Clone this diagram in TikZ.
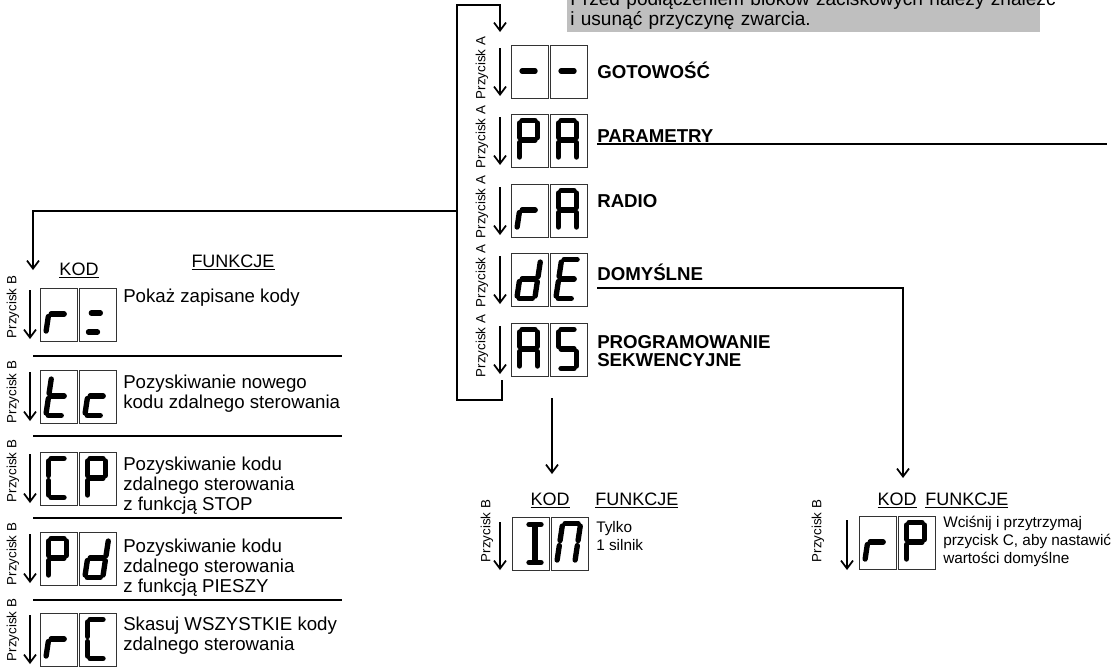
\documentclass[tikz,border=0pt]{standalone}
\usepackage{fontspec}
\setmainfont{Liberation Sans}
\usetikzlibrary{arrows.meta}

\tikzset{
  conn/.style={line width=0.9pt},
  arr/.style={-{Straight Barb[length=6pt,width=9pt,line width=1.3pt]}},
  lcd/.style={draw=black!80, line width=0.8pt, minimum width=27.75pt,
    minimum height=39.75pt, inner sep=0pt},
  segline/.style={line width=4pt, line cap=round},
  btn/.style={rotate=90, inner sep=0pt, font=\fontsize{10}{12}\selectfont},
  head/.style={anchor=base west, inner sep=0pt, font=\bfseries\fontsize{14}{13}\selectfont},
  desc/.style={anchor=base west, inner sep=0pt, align=left, font=\fontsize{14}{15}\selectfont},
  descs/.style={anchor=base west, inner sep=0pt, align=left, font=\fontsize{11.5}{13.5}\selectfont},
  colhead/.style={inner sep=0pt, font=\fontsize{13.5}{15}\selectfont},
  warnbox/.style={fill=black!25, inner xsep=2.25pt, inner ysep=2.2pt, text width=350.25pt,
    align=left, font=\fontsize{14.3}{15}\selectfont},
  % seven segment pieces, centre of the box is the origin
  sga/.style={insert path={(-8,-20.5)--(5,-20.5)}},
  sgb/.style={insert path={(7.5,-18)--(7.5,-3.5)}},
  sgc/.style={insert path={(7.5,1.5)--(7.5,16)}},
  sgd/.style={insert path={(-8,18.5)--(5,18.5)}},
  sge/.style={insert path={(-10.5,1.5)--(-10.5,16)}},
  sgf/.style={insert path={(-10.5,-18)--(-10.5,-3.5)}},
  sgg/.style={insert path={(-8,-1)--(5,-1)}},
  sgh/.style={insert path={(-7,-2)--(2,-2)}},
  sgi/.style={insert path={(-7,17)--(2,17)}},
  sgj/.style={insert path={(4,-18)--(4,16)}},
  sgk/.style={insert path={(-2,-19.5)--(10,-19.5)}},
  sgl/.style={insert path={(-2,18.5)--(10,18.5)}},
}

% name, left x, top y, slant, segments
\newcommand{\lcdbox}[5]{%
  \node[lcd, anchor=north west] (#1) at (#2,#3) {};
  \begin{scope}[shift={(#1.center)}, xslant=#4]
    \foreach \s in {#5} \draw[segline, sg\s];
  \end{scope}}

\begin{document}
\begin{tikzpicture}[x=0.75pt, y=-0.75pt]
\useasboundingbox (0,0) rectangle (1113,669);

\node[warnbox, anchor=south west] (warn) at (567,32.5)
  {\mbox{Przed podłączeniem bloków zaciskowych należy znaleźć}\\i usunąć przyczynę zwarcia.};

% main menu
\lcdbox{m1a}{511}{45}{0}{g}
\lcdbox{m1b}{550}{45}{0}{g}
\lcdbox{m2a}{511}{114}{0}{a,b,e,f,g}
\lcdbox{m2b}{550}{114}{0}{a,b,c,e,f,g}
\lcdbox{m3a}{511}{184}{0.15}{e,g}
\lcdbox{m3b}{550}{184}{0}{a,b,c,e,f,g}
\lcdbox{m4a}{511}{253}{0.15}{b,c,d,e,g}
\lcdbox{m4b}{550}{253}{0.15}{a,d,e,f,g}
\lcdbox{m5a}{511}{323}{0}{a,b,c,e,f,g}
\lcdbox{m5b}{550}{323}{0}{a,f,g,c,d}

\node[head] (got) at (597,78) {GOTOWOŚĆ};
\node[head] (par) at (597,142) {PARAMETRY};
\node[head] (rad) at (597,207) {RADIO};
\node[head] (dom) at (597,280) {DOMYŚLNE};
\node[head] (prg) at (597,348) {PROGRAMOWANIE};
\node[head] (sek) at (597,366) {SEKWENCYJNE};

\foreach \t [count=\i] in {45,114,184,253,323} {
  \coordinate (as\i) at (500,\t+3);
  \coordinate (ae\i) at (500,\t+51);
  \draw[conn, arr] (as\i) -- (ae\i);
  \node[btn] (pa\i) at (482,\t+23) {Przycisk A};
}

% loop back to the top
\coordinate (loopA) at (502,380);
\coordinate (loopB) at (457,400);
\coordinate (loopC) at (457,5);
\coordinate (loopD) at (500,32);
\draw[conn, arr] (loopA) |- (loopB) -- (loopC) -| (loopD);

% branches
\coordinate (parEnd) at (1107,144);
\draw[conn] ([yshift=-1.5pt]par.base west) -- (parEnd);
\coordinate (radJ) at (457,211);
\coordinate (radT) at (33,270);
\draw[conn, arr] (radJ) -| (radT);
\coordinate (asS) at (552,398);
\coordinate (asT) at (552,474);
\draw[conn, arr] (asS) -- (asT);
\coordinate (rpT) at (903,478);
\draw[conn, arr] ([yshift=-6pt]dom.base west) -| (rpT);

% radio submenu
\node[colhead, anchor=base] (kodL) at (79,275) {\underline{KOD}};
\node[colhead, anchor=base] (funL) at (233,267) {\underline{FUNKCJE}};
\lcdbox{r1a}{40}{288}{0.15}{e,g}
\lcdbox{r1b}{79}{288}{0.15}{h,i}
\lcdbox{r2a}{40}{370}{0.15}{f,e,g,d}
\lcdbox{r2b}{79}{370}{0.15}{g,e,d}
\lcdbox{r3a}{40}{452}{0}{a,f,e,d}
\lcdbox{r3b}{79}{452}{0}{a,b,e,f,g}
\lcdbox{r4a}{40}{532}{0}{a,b,e,f,g}
\lcdbox{r4b}{79}{532}{0.15}{b,c,d,e,g}
\lcdbox{r5a}{40}{613}{0.15}{e,g}
\lcdbox{r5b}{79}{613}{0}{a,f,e,d}
\foreach \t/\c [count=\i] in {288/307,370/392,452/471,532/554,613/630} {
  \coordinate (bs\i) at (30,\t+2);
  \coordinate (be\i) at (30,\t+51);
  \draw[conn, arr] (bs\i) -- (be\i);
  \node[btn] (pb\i) at (13,\c) {Przycisk B};
}
\foreach \y in {356,436,518,600}
  \draw[conn] (33,\y) -- (342,\y);
% base of a multi-line node is its last line
\node[desc] (d1) at (123,302) {Pokaż zapisane kody};
\node[desc] (d2) at (123,408) {Pozyskiwanie nowego\\kodu zdalnego sterowania};
\node[desc] (d3) at (123,510) {Pozyskiwanie kodu\\zdalnego sterowania\\z funkcją STOP};
\node[desc] (d4) at (123,592) {Pozyskiwanie kodu\\zdalnego sterowania\\z funkcją PIESZY};
\node[desc] (d5) at (123,650) {Skasuj WSZYSTKIE kody\\zdalnego sterowania};

% sequential programming submenu
\node[colhead, anchor=base] (kodM) at (550,505) {\underline{KOD}};
\node[colhead, anchor=base west] (funM) at (595,505) {\underline{FUNKCJE}};
\lcdbox{s1a}{512}{517}{0}{j,k,l}
\lcdbox{s1b}{551}{517}{0.15}{a,b,c,e,f}
\coordinate (msS) at (500,522);
\coordinate (msE) at (500,570);
\draw[conn, arr] (msS) -- (msE);
\node[btn] (pbM) at (487,531) {Przycisk B};
\node[descs] (dM) at (596,550) {Tylko\\1 silnik};

% defaults submenu
\node[colhead, anchor=base] (kodR) at (897,505) {\underline{KOD}};
\node[colhead, anchor=base west] (funR) at (925,505) {\underline{FUNKCJE}};
\lcdbox{t1a}{859}{516}{0.15}{e,g}
\lcdbox{t1b}{898}{516}{0}{a,b,e,f,g}
\coordinate (rsS) at (847,520);
\coordinate (rsE) at (847,570);
\draw[conn, arr] (rsS) -- (rsE);
\node[btn] (pbR) at (818,531) {Przycisk B};
\node[descs] (dR) at (943,563) {Wciśnij i przytrzymaj\\przycisk C, aby nastawić\\wartości domyślne};
\end{tikzpicture}
\end{document}
